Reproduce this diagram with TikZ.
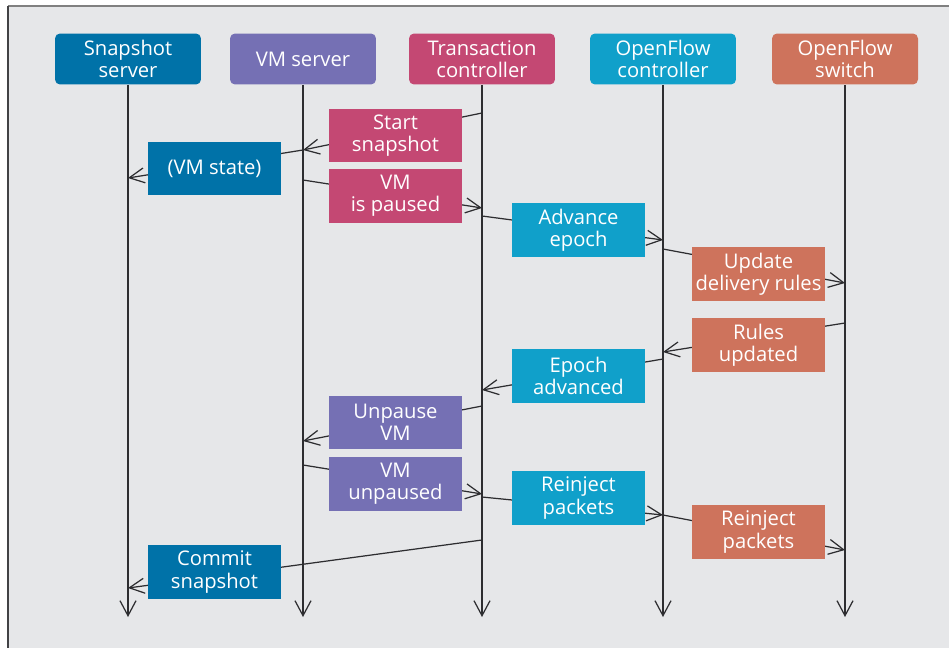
\documentclass[tikz,border=0pt]{standalone}
\usepackage{fontspec}
\setmainfont{Open Sans}
\usetikzlibrary{arrows.meta}

\definecolor{SnapBlue}{RGB}{0,114,168}
\definecolor{VmPurple}{RGB}{117,112,180}
\definecolor{TransRed}{RGB}{196,72,115}
\definecolor{OfcCyan}{RGB}{16,160,202}
\definecolor{OfsOrange}{RGB}{206,115,92}
\definecolor{PanelGray}{RGB}{230,231,233}
\definecolor{LineDark}{RGB}{45,45,48}

% lifeline columns (1 unit = 1px)
\newcommand{\lnxa}{128}
\newcommand{\lnxb}{303}
\newcommand{\lnxc}{482}
\newcommand{\lnxd}{663}
\newcommand{\lnxe}{845}
\newcommand{\lnhdy}{59}
\newcommand{\lnbot}{617}
% message box columns
\newcommand{\mbxa}{214.5}
\newcommand{\mbxb}{395.5}
\newcommand{\mbxc}{578.5}
\newcommand{\mbxd}{758.5}

\tikzset{
  hdrbox/.style={rounded corners=0.1cm, minimum width=2.92cm,
    minimum height=1.02cm, inner sep=0, text=white, align=center},
  msgbox/.style={minimum width=2.66cm, minimum height=1.07cm,
    inner sep=0, text=white, align=center},
  lifeline/.style={draw=LineDark, line width=0.7pt,
    -{Straight Barb[length=0.3cm,width=0.32cm]}},
  msgline/.style={draw=LineDark, line width=0.7pt,
    -{Straight Barb[length=0.3cm,width=0.3cm]}},
}

\begin{document}
\begin{tikzpicture}[x=0.02cm, y=-0.02cm,
    font=\fontsize{11.5}{12.6}\selectfont]
    % panel and frame
    \useasboundingbox[fill=white] (0,0) rectangle (949,648);
    \fill[PanelGray] (8,6) rectangle (949,648);
    \draw[gray, line width=0.8pt] (8,6) -- (949,6);
    \draw[LineDark!90, line width=1pt] (8,6) -- (8,648);

    % participants
    \node[hdrbox, fill=SnapBlue] (snap) at (\lnxa,\lnhdy) {Snapshot\\server};
    \node[hdrbox, fill=VmPurple] (vmsrv) at (\lnxb,\lnhdy) {VM server};
    \node[hdrbox, fill=TransRed] (trans) at (\lnxc,\lnhdy) {Transaction\\controller};
    \node[hdrbox, fill=OfcCyan] (ofctl) at (\lnxd,\lnhdy) {OpenFlow\\controller};
    \node[hdrbox, fill=OfsOrange] (ofsw) at (\lnxe,\lnhdy) {OpenFlow\\switch};

    \coordinate (snapend) at (\lnxa,\lnbot);
    \coordinate (vmsrvend) at (\lnxb,\lnbot);
    \coordinate (transend) at (\lnxc,\lnbot);
    \coordinate (ofctlend) at (\lnxd,\lnbot);
    \coordinate (ofswend) at (\lnxe,\lnbot);
    \draw[lifeline] (snap) -- (snapend);
    \draw[lifeline] (vmsrv) -- (vmsrvend);
    \draw[lifeline] (trans) -- (transend);
    \draw[lifeline] (ofctl) -- (ofctlend);
    \draw[lifeline] (ofsw) -- (ofswend);

    % message end points
    \coordinate (ssta) at (\lnxc,113);  \coordinate (sstb) at (\lnxb,150);
    \coordinate (vsta) at (\lnxb,150);  \coordinate (vstb) at (\lnxa,178);
    \coordinate (vpsa) at (\lnxb,180);  \coordinate (vpsb) at (\lnxc,208);
    \coordinate (adva) at (\lnxc,216);  \coordinate (advb) at (\lnxd,240);
    \coordinate (upda) at (\lnxd,249);  \coordinate (updb) at (\lnxe,283);
    \coordinate (ruda) at (\lnxe,323);  \coordinate (rudb) at (\lnxd,352);
    \coordinate (eada) at (\lnxd,359);  \coordinate (eadb) at (\lnxc,390);
    \coordinate (unpa) at (\lnxc,406);  \coordinate (unpb) at (\lnxb,441);
    \coordinate (vupa) at (\lnxb,465);  \coordinate (vupb) at (\lnxc,494);
    \coordinate (rica) at (\lnxc,497);  \coordinate (ricb) at (\lnxd,515);
    \coordinate (rioa) at (\lnxd,515);  \coordinate (riob) at (\lnxe,550);
    \coordinate (cmta) at (\lnxc,540);  \coordinate (cmtb) at (\lnxa,588);

    \draw[msgline] (ssta) -- (sstb);
    \draw[msgline] (vsta) -- (vstb);
    \draw[msgline] (vpsa) -- (vpsb);
    \draw[msgline] (adva) -- (advb);
    \draw[msgline] (upda) -- (updb);
    \draw[msgline] (ruda) -- (rudb);
    \draw[msgline] (eada) -- (eadb);
    \draw[msgline] (unpa) -- (unpb);
    \draw[msgline] (vupa) -- (vupb);
    \draw[msgline] (rica) -- (ricb);
    \draw[msgline] (rioa) -- (riob);
    \draw[msgline] (cmta) -- (cmtb);

    % message labels
    \node[msgbox, fill=TransRed] (sst) at (\mbxb,135.5) {Start\\snapshot};
    \node[msgbox, fill=SnapBlue] (vst) at (\mbxa,168.5) {(VM state)};
    \node[msgbox, fill=TransRed] (vps) at (\mbxb,196) {VM\\is paused};
    \node[msgbox, fill=OfcCyan] (adv) at (\mbxc,230) {Advance\\epoch};
    \node[msgbox, fill=OfsOrange] (upd) at (\mbxd,274) {Update\\delivery rules};
    \node[msgbox, fill=OfsOrange] (rud) at (\mbxd,345) {Rules\\updated};
    \node[msgbox, fill=OfcCyan] (ead) at (\mbxc,376) {Epoch\\advanced};
    \node[msgbox, fill=VmPurple] (unp) at (\mbxb,422.5) {Unpause\\VM};
    \node[msgbox, fill=VmPurple] (vup) at (\mbxb,484) {VM\\unpaused};
    \node[msgbox, fill=OfcCyan] (ric) at (\mbxc,498) {Reinject\\packets};
    \node[msgbox, fill=OfsOrange] (rio) at (\mbxd,532) {Reinject\\packets};
    \node[msgbox, fill=SnapBlue] (cmt) at (\mbxa,572) {Commit\\snapshot};
\end{tikzpicture}
\end{document}
